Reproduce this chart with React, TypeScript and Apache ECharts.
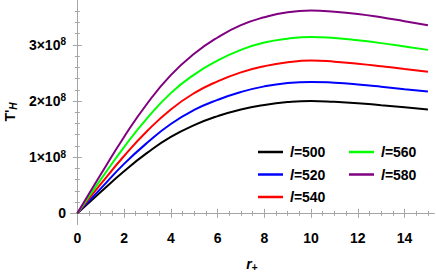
import React, { useEffect, useRef } from "react";
import * as echarts from "echarts";

// r_+ sample positions
const R = [0, 1, 2, 3, 4, 5, 6, 7, 8, 9, 10, 11, 12, 13, 14, 15];
// T'_H values in units of 1e8
const L500 = [0, 0.38, 0.75, 1.08, 1.36, 1.57, 1.73, 1.85, 1.93, 1.98, 2.0, 1.985, 1.96, 1.925, 1.89, 1.85];
const L520 = [0, 0.44, 0.88, 1.26, 1.59, 1.84, 2.02, 2.16, 2.26, 2.32, 2.34, 2.325, 2.295, 2.255, 2.21, 2.17];
const L540 = [0, 0.52, 1.02, 1.47, 1.85, 2.14, 2.35, 2.51, 2.62, 2.69, 2.72, 2.70, 2.665, 2.62, 2.57, 2.52];
const L560 = [0, 0.6, 1.18, 1.7, 2.14, 2.47, 2.72, 2.91, 3.04, 3.11, 3.14, 3.12, 3.08, 3.03, 2.97, 2.91];
const L580 = [0, 0.69, 1.36, 1.96, 2.46, 2.84, 3.13, 3.35, 3.49, 3.58, 3.61, 3.59, 3.55, 3.49, 3.42, 3.35];

const NAMES = ["l=500", "l=520", "l=540", "l=560", "l=580"];
const COLORS = ["#000000", "#0000ff", "#ff0000", "#00ff00", "#800080"];
const VALUES = [L500, L520, L540, L560, L580];

const X_MAJOR = [0, 2, 4, 6, 8, 10, 12, 14];
const X_MINOR = [0.5, 1, 1.5, 2.5, 3, 3.5, 4.5, 5, 5.5, 6.5, 7, 7.5, 8.5, 9, 9.5, 10.5, 11, 11.5, 12.5, 13, 13.5, 14.5, 15];
const Y_MAJOR = [0, 1, 2, 3];
const Y_MINOR = [0.2, 0.4, 0.6, 0.8, 1.2, 1.4, 1.6, 1.8, 2.2, 2.4, 2.6, 2.8, 3.2, 3.4, 3.6];

const XMIN = -0.27;
const XMAX = 15.26;
const YMIN = -0.19;
const YMAX = 3.78;

const FONT = "'Liberation Sans', Arial, sans-serif";
const FRAME = "#a6a6a6";

export default function App() {
  const ref = useRef<HTMLDivElement>(null);
  useEffect(() => {
    document.body.style.margin = "0";
    if (!ref.current) return;
    const chart = echarts.init(ref.current, undefined, { renderer: "svg" });

    const xAxisBase = (pos: string, major: boolean, labels: boolean) => ({
      type: "value",
      position: pos,
      min: XMIN,
      max: XMAX,
      axisLine: { show: true, lineStyle: { color: FRAME, width: 1 } },
      splitLine: { show: false },
      axisTick: {
        show: true,
        inside: true,
        length: major ? 4.5 : 2.5,
        customValues: major ? X_MAJOR : X_MINOR,
        lineStyle: { color: FRAME, width: 1 },
      },
      axisLabel: labels
        ? {
            show: true,
            customValues: X_MAJOR,
            margin: 7,
            fontFamily: FONT,
            fontWeight: "bold",
            fontSize: 14,
            color: "#000",
          }
        : { show: false },
    });

    const yAxisBase = (pos: string, major: boolean, labels: boolean) => ({
      type: "value",
      position: pos,
      min: YMIN,
      max: YMAX,
      axisLine: { show: true, lineStyle: { color: FRAME, width: 1 } },
      splitLine: { show: false },
      axisTick: {
        show: true,
        inside: true,
        length: major ? 4.5 : 2.5,
        customValues: major ? Y_MAJOR : Y_MINOR,
        lineStyle: { color: FRAME, width: 1 },
      },
      axisLabel: labels
        ? {
            show: true,
            customValues: Y_MAJOR,
            margin: 5,
            formatter: (v: number) => (v === 0 ? "{a|0}" : `{a|${v}×10}{s|8}`),
            rich: {
              a: { fontFamily: FONT, fontWeight: "bold", fontSize: 14, color: "#000" },
              s: {
                fontFamily: FONT,
                fontWeight: "bold",
                fontSize: 10,
                color: "#000",
                verticalAlign: "top",
                padding: [0, 0, 6, 0],
              },
            },
          }
        : { show: false },
    });

    const legendBase = (names: string[], left: number) => ({
      data: names,
      orient: "vertical",
      left,
      top: 139,
      icon: "rect",
      itemWidth: 25,
      itemHeight: 2.5,
      itemGap: 6.5,
      formatter: (n: string) => `{i|l}{n|${n.slice(1)}}`,
      textStyle: {
        padding: [0, 0, 0, 2],
        lineHeight: 16,
        rich: {
          i: { fontFamily: FONT, fontWeight: "bold", fontStyle: "italic", fontSize: 14, color: "#000" },
          n: { fontFamily: FONT, fontWeight: "bold", fontSize: 14, color: "#000" },
        },
      },
    });

    chart.setOption({
      animation: false,
      backgroundColor: "#fff",
      grid: { left: 71, right: 2, top: 1, bottom: 50, containLabel: false },
      xAxis: [
        xAxisBase("bottom", true, true),
        xAxisBase("bottom", false, false),
        xAxisBase("top", true, false),
        xAxisBase("top", false, false),
      ],
      yAxis: [
        yAxisBase("left", true, true),
        yAxisBase("left", false, false),
        yAxisBase("right", true, false),
        yAxisBase("right", false, false),
      ],
      legend: [legendBase(NAMES.slice(0, 3), 253), legendBase(NAMES.slice(3), 344)],
      series: VALUES.map((vals, k) => ({
        type: "line",
        name: NAMES[k],
        data: R.map((r, i) => [r, vals[i]]),
        xAxisIndex: 0,
        yAxisIndex: 0,
        smooth: 0.5,
        showSymbol: false,
        symbol: "none",
        color: COLORS[k],
        lineStyle: { width: 2, color: COLORS[k] },
      })),
      graphic: [
        {
          type: "text",
          x: 10,
          y: 112,
          rotation: Math.PI / 2,
          style: {
            text: "{t|T'}{h|H}",
            align: "center",
            verticalAlign: "middle",
            rich: {
              t: { fontFamily: FONT, fontWeight: "bold", fontSize: 14, fill: "#000" },
              h: {
                fontFamily: FONT,
                fontWeight: "bold",
                fontStyle: "italic",
                fontSize: 10,
                fill: "#000",
                verticalAlign: "bottom",
                padding: [6, 0, 0, 0],
              },
            },
          },
        },
        {
          type: "text",
          x: 252,
          y: 264,
          style: {
            text: "{r|r}{p|+}",
            align: "center",
            verticalAlign: "middle",
            rich: {
              r: { fontFamily: FONT, fontWeight: "bold", fontStyle: "italic", fontSize: 14, fill: "#000" },
              p: {
                fontFamily: FONT,
                fontWeight: "bold",
                fontSize: 10,
                fill: "#000",
                verticalAlign: "bottom",
                padding: [6, 0, 0, 0],
              },
            },
          },
        },
      ],
    });
    return () => chart.dispose();
  }, []);
  return <div ref={ref} style={{ width: 436, height: 274 }} />;
}
